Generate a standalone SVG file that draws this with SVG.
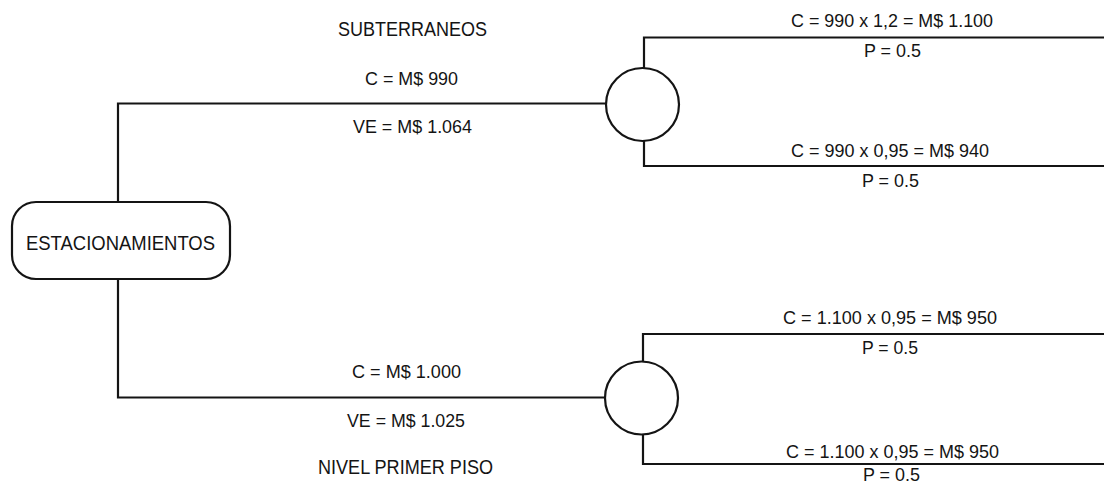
<svg xmlns="http://www.w3.org/2000/svg" width="1104" height="486" viewBox="0 0 1104 486">
<style>
.ln{fill:none;stroke:#141414;stroke-width:2.2;stroke-linejoin:miter}
.nd{fill:#fff;stroke:#141414;stroke-width:2.2}
.t{font-family:"Liberation Sans",Arial,sans-serif;font-size:18.5px;fill:#141414;text-anchor:middle}
.r{font-size:17.5px}
.h{font-size:19.5px}
.m{font-size:21px}
</style>
<rect width="1104" height="486" fill="#fff"/>
<g id="connectors">
<path class="ln" d="M118,202 V103.5 H606"/>
<path class="ln" d="M118,279 V397.5 H605"/>
<path class="ln" d="M644,68 V37.5 H1104"/>
<path class="ln" d="M644,141 V166 H1104"/>
<path class="ln" d="M643,361.5 V334 H1104"/>
<path class="ln" d="M643,434.5 V464 H1104"/>
</g>
<g id="labels">
<text class="t h" x="412.5" y="36" textLength="149" lengthAdjust="spacingAndGlyphs">SUBTERRANEOS</text>
<text class="t" x="411.5" y="85" textLength="93" lengthAdjust="spacingAndGlyphs">C = M$ 990</text>
<text class="t" x="412.5" y="133" textLength="119" lengthAdjust="spacingAndGlyphs">VE = M$ 1.064</text>
<text class="t" x="406.5" y="378" textLength="109" lengthAdjust="spacingAndGlyphs">C = M$ 1.000</text>
<text class="t" x="406" y="427" textLength="118" lengthAdjust="spacingAndGlyphs">VE = M$ 1.025</text>
<text class="t h" x="405.5" y="474" textLength="175" lengthAdjust="spacingAndGlyphs">NIVEL PRIMER PISO</text>
<text class="t r" x="892" y="27" textLength="202" lengthAdjust="spacingAndGlyphs">C = 990 x 1,2 = M$ 1.100</text>
<text class="t r" x="892.5" y="57" textLength="57" lengthAdjust="spacingAndGlyphs">P = 0.5</text>
<text class="t r" x="890" y="157" textLength="198" lengthAdjust="spacingAndGlyphs">C = 990 x 0,95 = M$ 940</text>
<text class="t r" x="890.5" y="187" textLength="57" lengthAdjust="spacingAndGlyphs">P = 0.5</text>
<text class="t r" x="890" y="324" textLength="214" lengthAdjust="spacingAndGlyphs">C = 1.100 x 0,95 = M$ 950</text>
<text class="t r" x="890" y="354" textLength="56" lengthAdjust="spacingAndGlyphs">P = 0.5</text>
<text class="t r" x="892.5" y="458" textLength="213" lengthAdjust="spacingAndGlyphs">C = 1.100 x 0,95 = M$ 950</text>
<text class="t r" x="891.5" y="481" textLength="57" lengthAdjust="spacingAndGlyphs">P = 0.5</text>
</g>
<g id="node-estacionamientos">
<rect class="nd" x="12" y="202" width="218" height="77" rx="24" ry="24"/>
<text class="t m" x="120.5" y="250" textLength="189" lengthAdjust="spacingAndGlyphs">ESTACIONAMIENTOS</text>
</g>
<g id="node-chance-subterraneos">
<circle class="nd" cx="642.5" cy="104.5" r="36.5"/>
</g>
<g id="node-chance-primer-piso">
<circle class="nd" cx="641.5" cy="398" r="36.5"/>
</g>
</svg>
